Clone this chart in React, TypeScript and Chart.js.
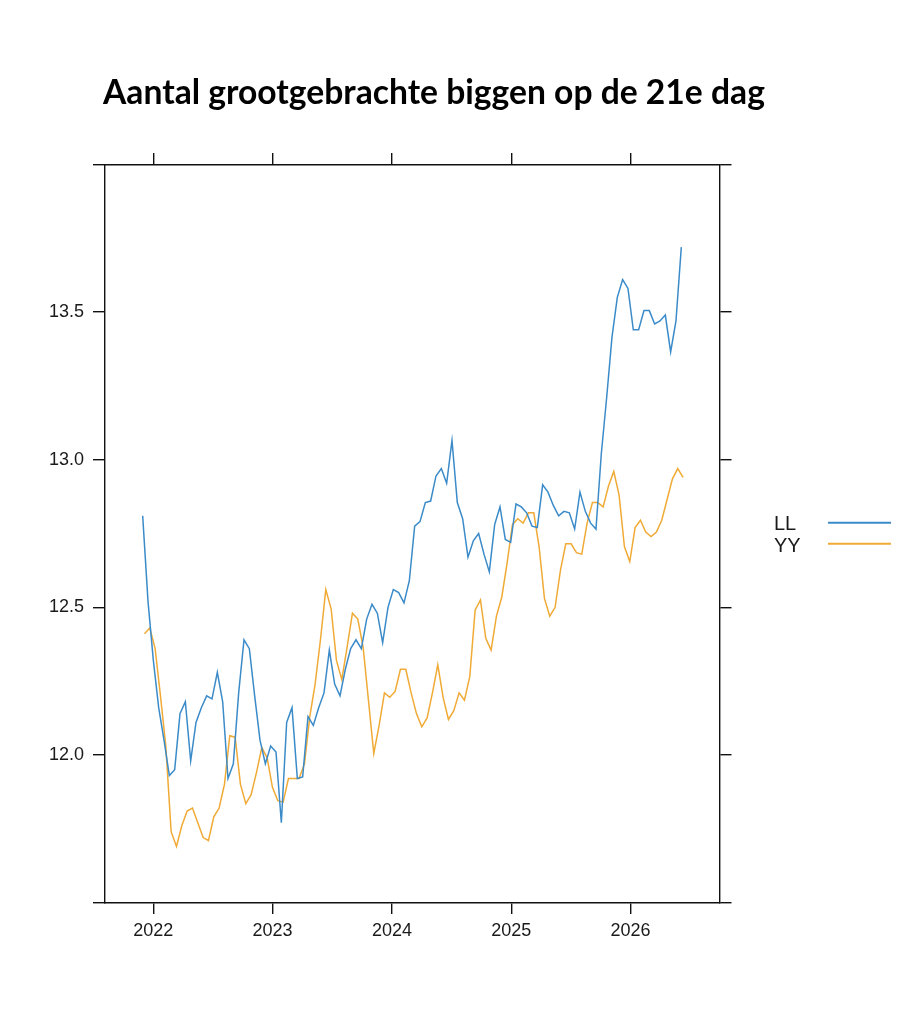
import React, { useEffect, useRef } from 'react';
import { Chart, registerables } from 'chart.js';

Chart.register(...registerables);

const TITLE = 'Aantal grootgebrachte biggen op de 21e dag';
const SERIES_NAMES = ['LL', 'YY'];
const SERIES_COLORS = ['#3b8bc9', '#f0aa36'];
const X_TICKS = [2022, 2023, 2024, 2025, 2026];
const Y_TICKS = [11.5, 12.0, 12.5, 13.0, 13.5, 14.0];
const Y_LABELED = [12.0, 12.5, 13.0, 13.5];
const X_MIN = 2021.591;
const X_MAX = 2026.75;
const Y_MIN = 11.5;
const Y_MAX = 14.0;

// regular sampling dates (decimal years)
const LL_START = 2021.911;
const YY_START = 2021.926;
const PERIOD = 0.0447;

const LL = [
  12.81, 12.52, 12.32, 12.16, 12.05, 11.93, 11.95, 12.14, 12.18, 11.98,
  12.11, 12.16, 12.2, 12.19, 12.28, 12.18, 11.92, 11.97, 12.21, 12.39,
  12.36, 12.2, 12.05, 11.97, 12.03, 12.01, 11.77, 12.11, 12.16, 11.92,
  11.925, 12.13, 12.1, 12.16, 12.21, 12.355, 12.24, 12.2, 12.29, 12.36,
  12.39, 12.36, 12.46, 12.51, 12.48, 12.38, 12.5, 12.56, 12.55, 12.515,
  12.59, 12.775, 12.79, 12.855, 12.86, 12.945, 12.97, 12.92, 13.065, 12.855,
  12.8, 12.67, 12.725, 12.75, 12.68, 12.62, 12.78, 12.84, 12.73, 12.72,
  12.85, 12.84, 12.82, 12.775, 12.77, 12.915, 12.89, 12.845, 12.81, 12.825,
  12.82, 12.765, 12.89, 12.825, 12.785, 12.765, 13.02, 13.21, 13.415, 13.55,
  13.61, 13.58, 13.44, 13.44, 13.505, 13.505, 13.46, 13.47, 13.49, 13.365,
  13.47, 13.72,
];

const YY = [
  12.41, 12.43, 12.36, 12.2, 12.03, 11.74, 11.69, 11.76, 11.81, 11.82,
  11.77, 11.72, 11.71, 11.79, 11.82, 11.9, 12.065, 12.06, 11.9, 11.835,
  11.865, 11.94, 12.025, 11.99, 11.89, 11.845, 11.84, 11.92, 11.92, 11.92,
  11.97, 12.13, 12.24, 12.39, 12.56, 12.495, 12.32, 12.255, 12.365, 12.48,
  12.46, 12.365, 12.185, 12.005, 12.1, 12.21, 12.195, 12.215, 12.29, 12.29,
  12.21, 12.14, 12.095, 12.125, 12.21, 12.305, 12.195, 12.12, 12.15, 12.21,
  12.185, 12.265, 12.49, 12.525, 12.395, 12.355, 12.47, 12.535, 12.65, 12.78,
  12.8, 12.785, 12.82, 12.82, 12.705, 12.53, 12.47, 12.5, 12.625, 12.715,
  12.715, 12.685, 12.68, 12.785, 12.855, 12.855, 12.84, 12.91, 12.96, 12.88,
  12.705, 12.655, 12.77, 12.795, 12.755, 12.74, 12.755, 12.795, 12.865, 12.935,
  12.97, 12.94,
];

const TICK_FONT = { family: '"Liberation Sans", Arial, sans-serif', size: 18 };
const AXIS_COLOR = '#111111';
const LABEL_COLOR = '#1a1a1a';

const toPoints = (start: number, vals: number[]) =>
  vals.map((v, i) => ({ x: start + i * PERIOD, y: v }));

const overlayPlugin = {
  id: 'overlay',
  afterDraw(chart: any) {
    const ctx = chart.ctx as CanvasRenderingContext2D;
    ctx.save();
    // title
    const base = 28;
    ctx.font = `bold ${base}px Lato, "Noto Sans", sans-serif`;
    const w = ctx.measureText(TITLE).width;
    const size = (base * 662) / w;
    ctx.font = `bold ${size}px Lato, "Noto Sans", sans-serif`;
    ctx.fillStyle = '#000';
    ctx.textAlign = 'left';
    ctx.textBaseline = 'alphabetic';
    ctx.fillText(TITLE, 103, 103.5);
    // legend
    const rows = [529.5, 551.5];
    const lineYs = [522.7, 543.7];
    ctx.font = '20px "Liberation Sans", Arial, sans-serif';
    SERIES_NAMES.forEach((name, k) => {
      ctx.fillStyle = LABEL_COLOR;
      ctx.fillText(name, 774, rows[k]);
      ctx.strokeStyle = SERIES_COLORS[k];
      ctx.lineWidth = 2;
      ctx.beginPath();
      ctx.moveTo(828, lineYs[k]);
      ctx.lineTo(891, lineYs[k]);
      ctx.stroke();
    });
    ctx.restore();
  },
};

const gridOpts = {
  drawOnChartArea: false,
  drawTicks: true,
  tickLength: 11.5,
  color: AXIS_COLOR,
  lineWidth: 1.4,
};
const borderOpts = { display: true, color: AXIS_COLOR, width: 1.4 };

export default function App() {
  const ref = useRef<HTMLCanvasElement | null>(null);

  useEffect(() => {
    if (!ref.current) return;
    const chart = new Chart(ref.current, {
      type: 'line',
      data: {
        datasets: [
          {
            label: SERIES_NAMES[0],
            data: toPoints(LL_START, LL),
            borderColor: SERIES_COLORS[0],
            borderWidth: 1.5,
            pointRadius: 0,
            tension: 0,
            xAxisID: 'x',
            yAxisID: 'y',
          },
          {
            label: SERIES_NAMES[1],
            data: toPoints(YY_START, YY),
            borderColor: SERIES_COLORS[1],
            borderWidth: 1.5,
            pointRadius: 0,
            tension: 0,
            xAxisID: 'x',
            yAxisID: 'y',
          },
        ],
      },
      options: {
        animation: false,
        responsive: false,
        devicePixelRatio: 1,
        layout: { padding: 0 },
        plugins: {
          legend: { display: false },
          title: { display: false },
          tooltip: { enabled: false },
        },
        scales: {
          x: {
            type: 'linear',
            position: 'bottom',
            min: X_MIN,
            max: X_MAX,
            bounds: 'data',
            afterBuildTicks: (s: any) => {
              s.ticks = X_TICKS.map((v) => ({ value: v }));
            },
            ticks: {
              callback: (v: any) => String(v),
              font: TICK_FONT,
              color: LABEL_COLOR,
              padding: 6,
              maxRotation: 0,
              autoSkip: false,
            },
            grid: gridOpts,
            border: borderOpts,
            afterFit: (s: any) => {
              s.height = 121.5;
            },
          },
          x2: {
            type: 'linear',
            position: 'top',
            min: X_MIN,
            max: X_MAX,
            bounds: 'data',
            afterBuildTicks: (s: any) => {
              s.ticks = X_TICKS.map((v) => ({ value: v }));
            },
            ticks: { display: false },
            grid: gridOpts,
            border: borderOpts,
            afterFit: (s: any) => {
              s.height = 164.5;
            },
          },
          y: {
            type: 'linear',
            position: 'left',
            min: Y_MIN,
            max: Y_MAX,
            bounds: 'data',
            afterBuildTicks: (s: any) => {
              s.ticks = Y_TICKS.map((v) => ({ value: v }));
            },
            ticks: {
              callback: (v: any) => (Y_LABELED.includes(v) ? Number(v).toFixed(1) : ''),
              font: TICK_FONT,
              color: LABEL_COLOR,
              padding: 9,
              autoSkip: false,
            },
            grid: gridOpts,
            border: borderOpts,
            afterFit: (s: any) => {
              s.width = 104.5;
            },
          },
          y2: {
            type: 'linear',
            position: 'right',
            min: Y_MIN,
            max: Y_MAX,
            bounds: 'data',
            afterBuildTicks: (s: any) => {
              s.ticks = Y_TICKS.map((v) => ({ value: v }));
            },
            ticks: { display: false },
            grid: gridOpts,
            border: borderOpts,
            afterFit: (s: any) => {
              s.width = 190;
            },
          },
        },
      } as any,
      plugins: [overlayPlugin],
    });
    return () => chart.destroy();
  }, []);

  return (
    <div style={{ position: 'absolute', left: 0, top: 0, width: 910, height: 1024, background: '#fff' }}>
      <canvas ref={ref} width={910} height={1024} style={{ display: 'block', width: 910, height: 1024 }} />
    </div>
  );
}
